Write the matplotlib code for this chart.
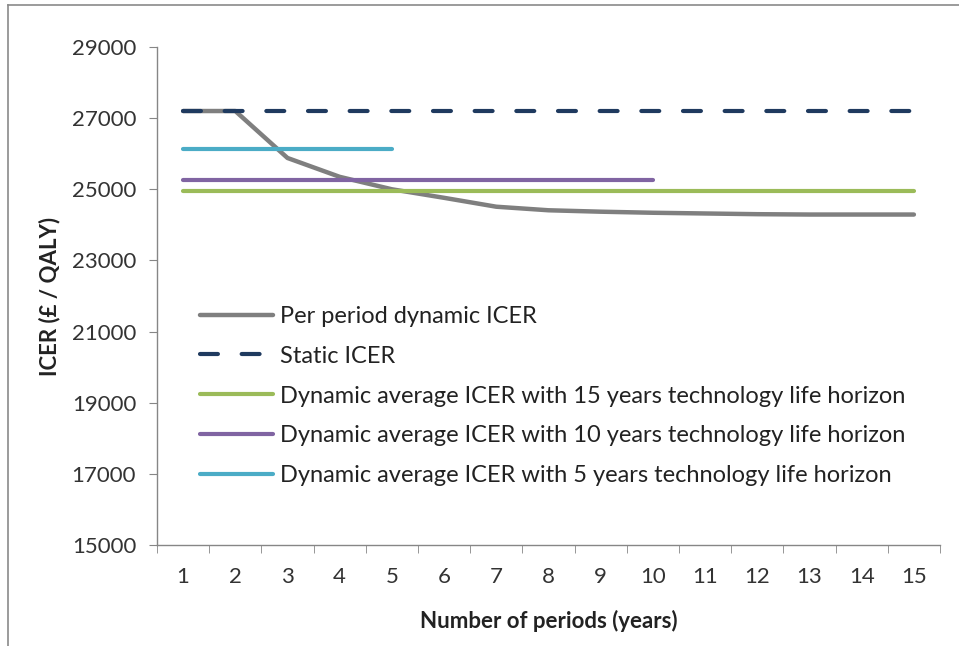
import numpy as np
import matplotlib
matplotlib.use('Agg')
import matplotlib.pyplot as plt
from matplotlib.ticker import FixedLocator

plt.rcParams['font.family'] = ['Lato', 'DejaVu Sans']

periods = list(range(1, 16))
per_period = [27200, 27200, 25880, 25350, 25000, 24760, 24510, 24410,
              24370, 24340, 24320, 24300, 24290, 24290, 24290]
static_icer = 27200
avg_15 = 24960
avg_10 = 25250
avg_5 = 26130
yticks = list(range(15000, 29001, 2000))

labels = ['Per period dynamic ICER',
          'Static ICER',
          'Dynamic average ICER with 15 years technology life horizon',
          'Dynamic average ICER with 10 years technology life horizon',
          'Dynamic average ICER with 5 years technology life horizon']

fig = plt.figure(figsize=(9.59, 6.46), dpi=100)
ax = fig.add_axes([157/959, 1-545/646, (940-157)/959, (545-47)/646])

lw = 3.0
ax.plot(periods, per_period, color='#7f7f7f', lw=3.2, solid_capstyle='round', label=labels[0])
ax.plot(periods, [static_icer]*15, color='#1f3a5f', lw=lw, dashes=(4.3, 5.7),
        dash_capstyle='round', label=labels[1])
ax.plot(periods, [avg_15]*15, color='#9bbb59', lw=lw, solid_capstyle='round', label=labels[2])
ax.plot(periods[:10], [avg_10]*10, color='#8064a2', lw=lw, solid_capstyle='round', label=labels[3])
ax.plot(periods[:5], [avg_5]*5, color='#4bacc6', lw=lw, solid_capstyle='round', label=labels[4])

ax.set_xlim(0.5, 15.5)
ax.set_ylim(15000, 29000)
ax.yaxis.set_major_locator(FixedLocator(yticks))
ax.xaxis.set_major_locator(FixedLocator(periods))
ax.xaxis.set_minor_locator(FixedLocator(np.arange(0.5, 16, 1)))

for s in ['top', 'right']:
    ax.spines[s].set_visible(False)
for s in ['left', 'bottom']:
    ax.spines[s].set_color('#868686')
    ax.spines[s].set_linewidth(1.0)

fs = 16
ax.tick_params(axis='x', which='major', length=0, pad=16, labelsize=fs, labelcolor='#333333')
ax.tick_params(axis='x', which='minor', length=6, color='#868686', direction='out')
ax.tick_params(axis='y', length=6, color='#868686', pad=9, labelsize=fs, labelcolor='#333333')

ax.set_xlabel('Number of periods (years)', fontsize=fs, fontweight='bold', color='#222222', labelpad=16)
ax.set_ylabel('ICER (£ / QALY)', fontsize=fs, fontweight='bold', color='#222222', labelpad=8)

leg = ax.legend(loc='center left', bbox_to_anchor=(0.055, 0.299), frameon=False,
                fontsize=17, handlelength=3.1, handletextpad=0.3, labelspacing=0.8,
                borderpad=0, borderaxespad=0)
for t in leg.get_texts():
    t.set_color('#222222')

# thin frame lines along top and left of the image
fig.add_artist(plt.Line2D([8/959, 8/959], [0, 1-5/646], transform=fig.transFigure, color='#8a8a8a', lw=1.2))
fig.add_artist(plt.Line2D([8/959, 1], [1-5/646, 1-5/646], transform=fig.transFigure, color='#8a8a8a', lw=1.2))

fig.savefig('out.png', dpi=100)
